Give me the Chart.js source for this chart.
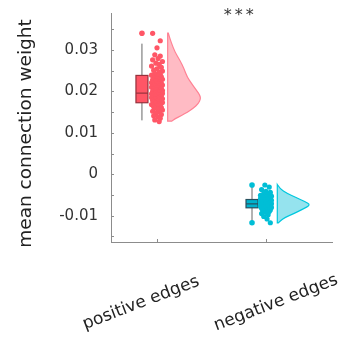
<!DOCTYPE html>
<html>
<head>
<meta charset="utf-8">
<script src="https://cdn.jsdelivr.net/npm/chart.js@4"></script>
<style>
  body { margin: 0; background: #fff; }
</style>
</head>
<body>
<canvas id="rain" width="343" height="339"></canvas>
<script>
const categories = ['positive edges', 'negative edges'];
const categoryPos = [1, 2];
const yTitle = 'mean connection weight';

// raw values per group (scatter cloud) and their hand-read horizontal jitter
const posValues = [0.0340, 0.0322, 0.0305, 0.0288, 0.0285, 0.0279, 0.0276, 0.0272, 0.0268, 0.0265,
  0.0261, 0.0258, 0.0254, 0.0251, 0.0249, 0.0246, 0.0243, 0.0241, 0.0239, 0.0237,
  0.0235, 0.0233, 0.0231, 0.0229, 0.0228, 0.0226, 0.0224, 0.0222, 0.0221, 0.0219,
  0.0218, 0.0216, 0.0215, 0.0213, 0.0212, 0.0210, 0.0209, 0.0207, 0.0206, 0.0204,
  0.0203, 0.0202, 0.0200, 0.0199, 0.0198, 0.0196, 0.0195, 0.0194, 0.0192, 0.0191,
  0.0190, 0.0188, 0.0187, 0.0186, 0.0185, 0.0183, 0.0182, 0.0181, 0.0180, 0.0178,
  0.0177, 0.0176, 0.0174, 0.0173, 0.0171, 0.0170, 0.0168, 0.0166, 0.0165, 0.0163,
  0.0161, 0.0159, 0.0157, 0.0155, 0.0152, 0.0150, 0.0147, 0.0144, 0.0141, 0.0138,
  0.0135, 0.0131, 0.0127];
const posJitter = [-0.04, 0.03, 0.00, -0.02, 0.03, 0.01, -0.04, 0.05, -0.01, 0.02,
  -0.05, 0.04, 0.00, -0.03, 0.05, 0.02, -0.02, 0.03, -0.05, 0.01,
  0.04, -0.03, 0.00, 0.05, -0.04, 0.02, -0.01, 0.03, -0.05, 0.04,
  0.01, -0.03, 0.05, -0.02, 0.02, -0.05, 0.00, 0.04, -0.03, 0.03,
  -0.01, 0.05, -0.04, 0.01, 0.03, -0.02, 0.05, -0.05, 0.00, 0.02,
  -0.03, 0.04, -0.01, 0.03, -0.05, 0.01, 0.05, -0.02, 0.02, -0.04,
  0.04, 0.00, -0.03, 0.05, -0.01, 0.02, -0.05, 0.03, 0.00, -0.03,
  0.04, -0.02, 0.01, 0.05, -0.04, 0.02, -0.01, 0.04, -0.03, 0.01,
  0.03, -0.02, 0.02];

const negValues = [-0.0026, -0.0031, -0.0037, -0.0041, -0.0044, -0.0047, -0.0049, -0.0051, -0.0053, -0.0055,
  -0.0056, -0.0058, -0.0059, -0.0060, -0.0061, -0.0062, -0.0063, -0.0064, -0.0065, -0.0066,
  -0.0067, -0.0068, -0.0069, -0.0070, -0.0071, -0.0071, -0.0072, -0.0073, -0.0074, -0.0075,
  -0.0076, -0.0077, -0.0078, -0.0079, -0.0080, -0.0081, -0.0082, -0.0083, -0.0085, -0.0086,
  -0.0088, -0.0090, -0.0092, -0.0095, -0.0098, -0.0102, -0.0108, -0.0117];
const negJitter = [-0.01, 0.03, -0.04, 0.00, 0.04, -0.02, 0.02, -0.05, 0.05, 0.01,
  -0.03, 0.03, -0.05, 0.04, 0.00, -0.02, 0.05, -0.04, 0.02, -0.01,
  0.04, -0.05, 0.01, 0.03, -0.03, 0.05, -0.01, 0.02, -0.04, 0.04,
  0.00, -0.05, 0.03, -0.02, 0.05, 0.01, -0.04, 0.02, -0.01, 0.04,
  -0.03, 0.03, 0.00, -0.04, 0.02, -0.02, 0.01, 0.04];

// box stats: [low whisker, q1, median, q3, high whisker]
const posBox = [0.0130, 0.01725, 0.01957, 0.02384, 0.0315];
const negBox = [-0.0117, -0.0081, -0.00715, -0.0061, -0.0026];
const posOutliers = [0.0340];
const negOutliers = [-0.0026, -0.0117];

// half-violin (density) outline: values and widths in x-axis units
const posDensityVals = [0.03406, 0.03271, 0.03150, 0.02947, 0.02747, 0.02546, 0.02343, 0.02184, 0.02022,
  0.01901, 0.01822, 0.01701, 0.01594, 0.01498, 0.01418, 0.01338, 0.01280];
const posDensityWidths = [0.006, 0.021, 0.037, 0.067, 0.113, 0.150, 0.180, 0.220, 0.266,
  0.296, 0.303, 0.281, 0.235, 0.180, 0.128, 0.067, 0.037];
const negDensityVals = [-0.00249, -0.00353, -0.00459, -0.0057, -0.00659, -0.00739, -0.00836, -0.00957, -0.01039, -0.01118, -0.01174];
const negDensityWidths = [0, 0.025, 0.086, 0.178, 0.254, 0.306, 0.239, 0.147, 0.071, 0.031, 0.009];

const yTickValues = [-0.015, -0.01, -0.005, 0, 0.005, 0.01, 0.015, 0.02, 0.025, 0.03, 0.035];
const yLabelValues = [-0.01, 0, 0.01, 0.02, 0.03];
const yLabelText = ['-0.01', '0', '0.01', '0.02', '0.03'];

const RED = 'rgb(255,86,102)';
const CYAN = 'rgb(0,190,214)';
const FONT = '"DejaVu Sans", Verdana, sans-serif';

const BOX_X = [0.862, 1.872];
const BOX_HALF = 0.055;
const DENS_BASE = [1.098, 2.104];

function drawDensity(ctx, xs, ys, base, vals, widths, fill, stroke) {
  const bx = xs.getPixelForValue(base);
  const p = vals.map((v, i) => ({ x: xs.getPixelForValue(base + widths[i]), y: ys.getPixelForValue(v) }));
  ctx.beginPath();
  ctx.moveTo(bx, p[0].y);
  ctx.lineTo(p[0].x, p[0].y);
  for (let i = 1; i < p.length - 1; i++) {
    const mx = (p[i].x + p[i + 1].x) / 2, my = (p[i].y + p[i + 1].y) / 2;
    ctx.quadraticCurveTo(p[i].x, p[i].y, mx, my);
  }
  ctx.lineTo(p[p.length - 1].x, p[p.length - 1].y);
  ctx.lineTo(bx, p[p.length - 1].y);
  ctx.closePath();
  ctx.fillStyle = fill;
  ctx.fill();
  ctx.strokeStyle = stroke;
  ctx.lineWidth = 1.2;
  ctx.stroke();
}

function drawBox(ctx, xs, ys, cx, stats, fill, edge) {
  const [lo, q1, med, q3, hi] = stats;
  const px = xs.getPixelForValue(cx);
  const l = xs.getPixelForValue(cx - BOX_HALF), r = xs.getPixelForValue(cx + BOX_HALF);
  ctx.strokeStyle = '#666';
  ctx.lineWidth = 1;
  ctx.beginPath();
  ctx.moveTo(px, ys.getPixelForValue(hi));
  ctx.lineTo(px, ys.getPixelForValue(lo));
  ctx.stroke();
  const t = ys.getPixelForValue(q3), b = ys.getPixelForValue(q1);
  ctx.fillStyle = fill;
  ctx.fillRect(l, t, r - l, b - t);
  ctx.strokeStyle = edge;
  ctx.lineWidth = 1.2;
  ctx.strokeRect(l, t, r - l, b - t);
  const m = ys.getPixelForValue(med);
  ctx.beginPath();
  ctx.moveTo(l, m);
  ctx.lineTo(r, m);
  ctx.stroke();
}

const rainPlugin = {
  id: 'rain',
  beforeDatasetsDraw(chart) {
    const { ctx, scales: { x, y } } = chart;
    ctx.save();
    drawDensity(ctx, x, y, DENS_BASE[0], posDensityVals, posDensityWidths, 'rgba(255,175,186,0.85)', 'rgb(255,130,148)');
    drawDensity(ctx, x, y, DENS_BASE[1], negDensityVals, negDensityWidths, 'rgba(130,222,235,0.85)', 'rgb(0,200,222)');
    drawBox(ctx, x, y, BOX_X[0], posBox, RED, 'rgb(150,50,60)');
    drawBox(ctx, x, y, BOX_X[1], negBox, 'rgb(0,178,204)', 'rgb(40,80,95)');
    ctx.restore();
  },
  afterDraw(chart) {
    const { ctx, chartArea, scales: { x, y } } = chart;
    ctx.save();
    // inward tick marks
    ctx.strokeStyle = '#8c8c8c';
    ctx.lineWidth = 1;
    ctx.beginPath();
    yTickValues.forEach(v => {
      const py = Math.round(y.getPixelForValue(v)) + 0.5;
      ctx.moveTo(x.left, py);
      ctx.lineTo(x.left + 3, py);
    });
    categoryPos.forEach(c => {
      const px = Math.round(x.getPixelForValue(c)) + 0.5;
      ctx.moveTo(px, y.bottom);
      ctx.lineTo(px, y.bottom - 3);
    });
    ctx.stroke();
    ctx.textAlign = 'center';
    ctx.textBaseline = 'middle';
    // y axis title
    ctx.font = '18.5px ' + FONT;
    ctx.fillStyle = '#222';
    ctx.save();
    ctx.translate(26, (chartArea.top + chartArea.bottom) / 2 + 6);
    ctx.rotate(-Math.PI / 2);
    ctx.fillText(yTitle, 0, 0);
    ctx.restore();
    // category labels, rotated
    ctx.font = '17px ' + FONT;
    const offs = [-16, 10];
    categories.forEach((c, i) => {
      ctx.save();
      ctx.translate(x.getPixelForValue(categoryPos[i]) + offs[i], 303);
      ctx.rotate(-21 * Math.PI / 180);
      ctx.fillText(c, 0, 0);
      ctx.restore();
    });
    // significance stars
    ctx.font = '16px ' + FONT;
    ctx.letterSpacing = '3px';
    ctx.fillStyle = '#333';
    ctx.fillText('***', x.getPixelForValue(1.75) + 1.5, y.getPixelForValue(0.0382));
    ctx.restore();
  }
};

new Chart(document.getElementById('rain'), {
  type: 'scatter',
  data: {
    datasets: [
      {
        data: posValues.map((v, i) => ({ x: categoryPos[0] + posJitter[i], y: v })),
        backgroundColor: RED, borderWidth: 0, pointRadius: 2.6
      },
      {
        data: negValues.map((v, i) => ({ x: categoryPos[1] + negJitter[i], y: v })),
        backgroundColor: CYAN, borderWidth: 0, pointRadius: 2.6
      },
      {
        data: posOutliers.map(v => ({ x: BOX_X[0], y: v })),
        backgroundColor: RED, borderWidth: 0, pointRadius: 2.8
      },
      {
        data: negOutliers.map(v => ({ x: BOX_X[1], y: v })),
        backgroundColor: CYAN, borderWidth: 0, pointRadius: 2.8
      }
    ]
  },
  options: {
    responsive: false,
    animation: false,
    layout: { padding: { top: 13, right: 11, left: 0, bottom: 0 } },
    plugins: { legend: { display: false }, tooltip: { enabled: false } },
    scales: {
      x: {
        type: 'linear', min: 0.578, max: 2.606,
        grid: { display: false },
        border: { color: '#8c8c8c' },
        ticks: { display: false },
        afterFit: s => { s.height = 97; s.paddingLeft = 0; s.paddingRight = 0; }
      },
      y: {
        min: -0.01635, max: 0.0389,
        grid: { display: false, drawTicks: false },
        border: { color: '#8c8c8c' },
        afterBuildTicks: s => { s.ticks = yLabelValues.map(v => ({ value: v })); },
        ticks: {
          padding: 13,
          color: '#333',
          font: { family: FONT, size: 15 },
          callback: (v, i) => yLabelText[i]
        },
        afterFit: s => { s.width = 111; s.paddingTop = 0; s.paddingBottom = 0; }
      }
    }
  },
  plugins: [rainPlugin]
});
</script>
</body>
</html>
